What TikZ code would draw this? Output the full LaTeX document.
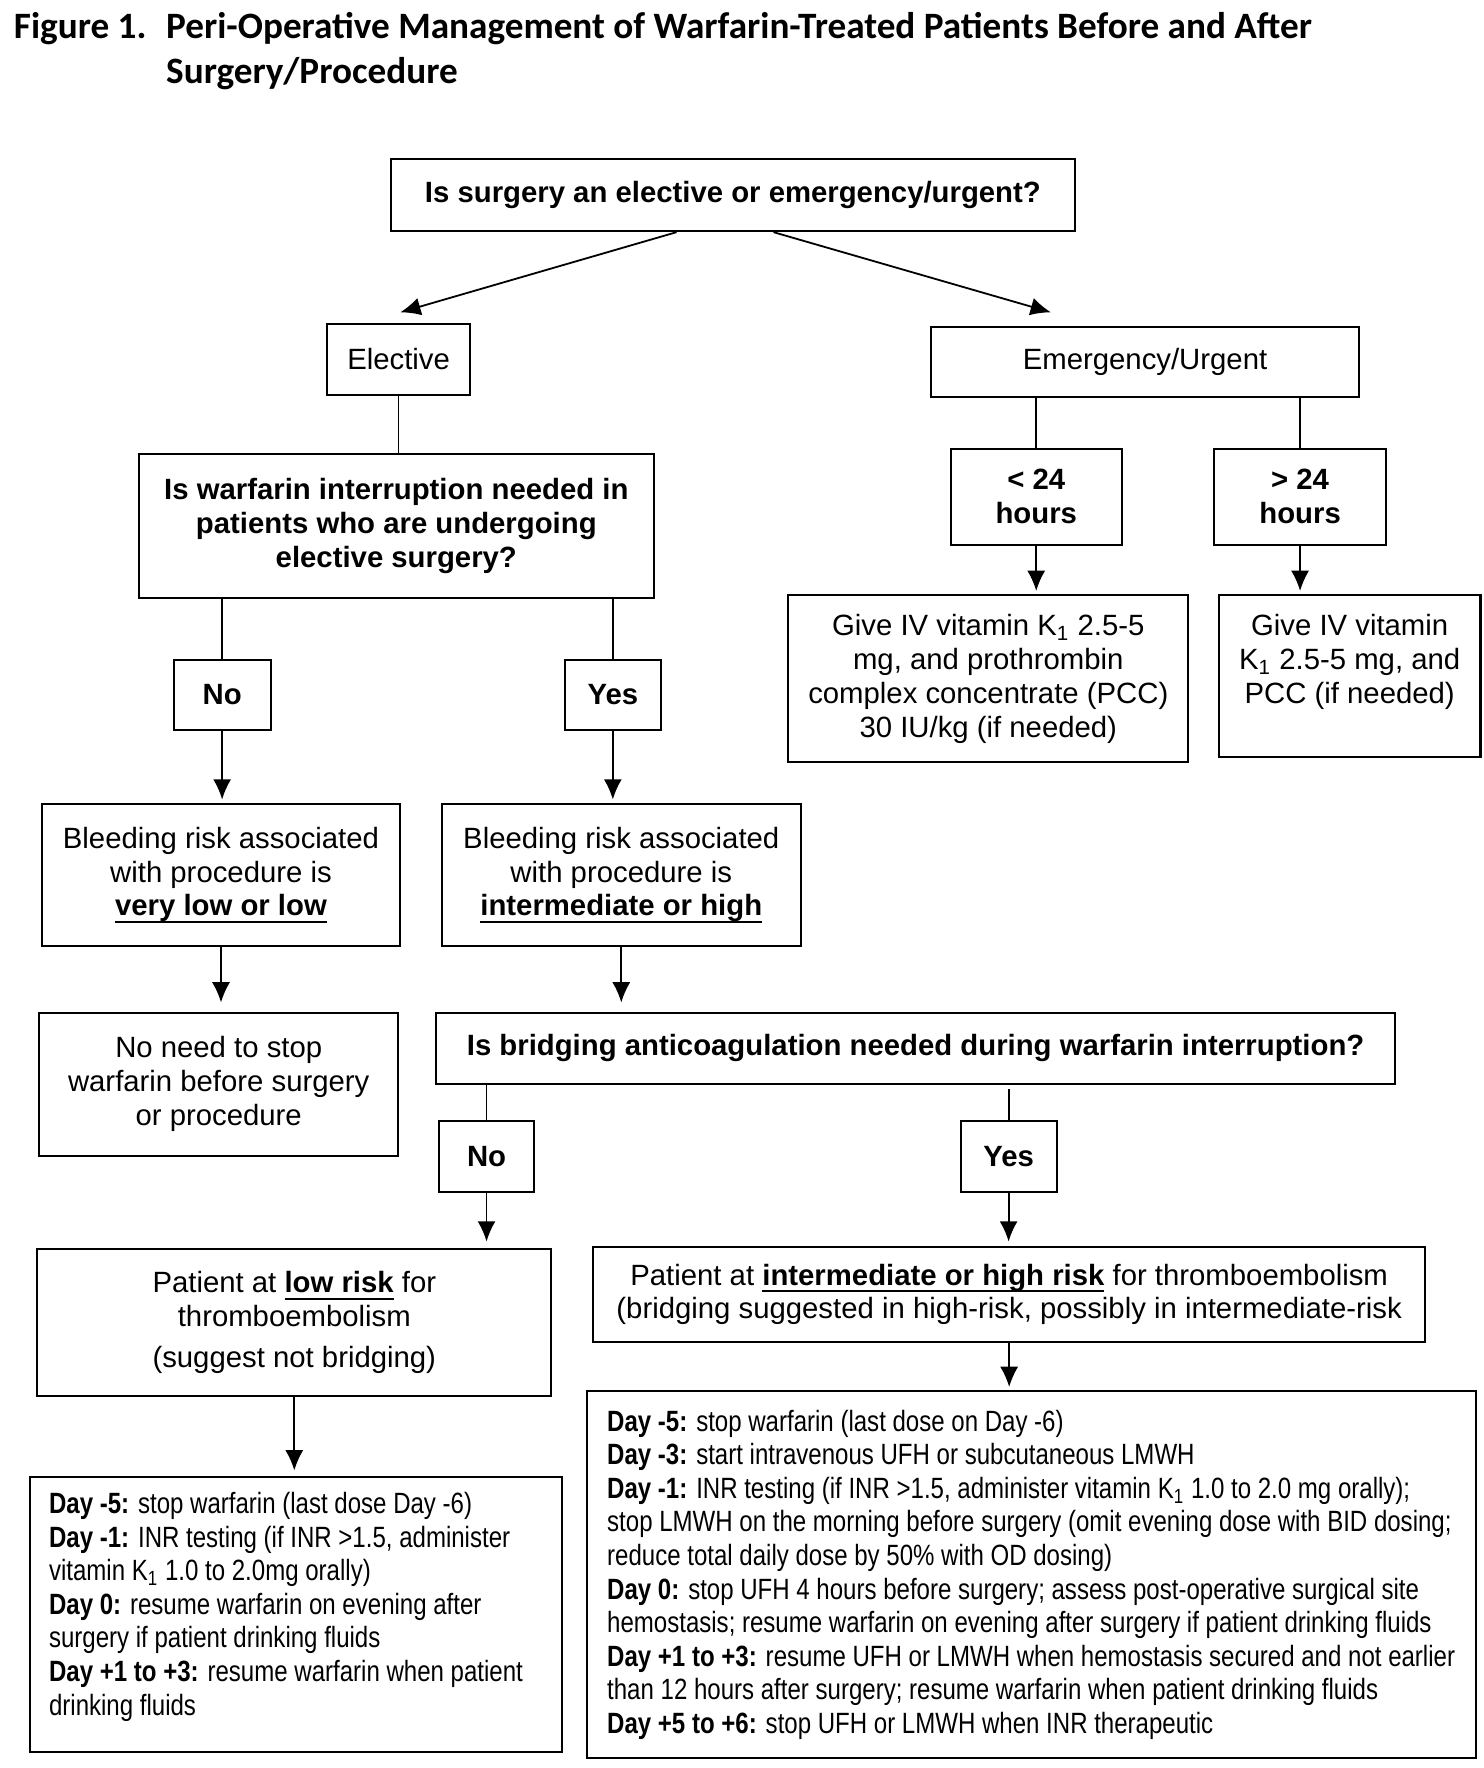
\documentclass[tikz,border=0pt]{standalone}
\usepackage{fontspec}
\setmainfont{Liberation Sans}
\newfontfamily\titlefont{Carlito}
\newfontfamily\narrowfont[FakeStretch=0.82]{Liberation Sans}
\usetikzlibrary{arrows.meta}
\newcommand{\bodyfont}{\fontsize{13}{15}\selectfont}
\newcommand{\myul}[1]{\setbox0\hbox{#1}\rlap{\raisebox{-3.2pt}{\rule{\wd0}{0.9pt}}}\box0\relax}
\begin{document}
\begin{tikzpicture}[x=0.5pt,y=-0.5pt,
  box/.style={draw, line width=0.9pt, inner sep=0pt, align=center, font=\bodyfont},
  bbox/.style={box, font=\bodyfont\bfseries},
  arr/.style={-{Latex[length=9pt,width=8pt]}, line width=0.8pt, shorten >=1.5pt},
  ln/.style={line width=0.8pt},
  plan/.style={anchor=west, align=left, inner sep=0pt, font=\narrowfont\fontsize{13}{14.9}\selectfont},
  ttl/.style={font=\titlefont\bfseries\fontsize{16.5}{20}\selectfont, inner sep=0pt, anchor=base west}]
\useasboundingbox (0,0) rectangle (1316,1568);
% title
\node[ttl] (t0) at (12,34) {Figure 1.};
\node[ttl] (t1) at (147,34) {Peri-Operative Management of Warfarin-Treated Patients Before and After};
\node[ttl] (t2) at (147,74) {Surgery/Procedure};
% boxes
\node[bbox, minimum width=303pt, minimum height=32pt] (q1) at (650,173) {Is surgery an elective or emergency/urgent?};
\node[box, minimum width=63.5pt, minimum height=31.5pt] (el) at (353.5,318.5) {Elective};
\node[box, minimum width=189.5pt, minimum height=31pt] (em) at (1015.5,321) {Emergency/Urgent};
\node[bbox, minimum width=228.5pt, minimum height=63.5pt] (q2) at (351.5,466.5) {Is warfarin interruption needed in\\patients who are undergoing\\elective surgery?};
\node[bbox, minimum width=43pt, minimum height=31pt] (no) at (197,616) {No};
\node[bbox, minimum width=42.5pt, minimum height=31pt] (yes) at (543.5,616) {Yes};
\node[box, minimum width=159pt, minimum height=63pt] (bl) at (196,776) {Bleeding risk associated\\with procedure is\\\myul{\textbf{very low or low}}};
\node[box, minimum width=159pt, minimum height=63pt] (bh) at (551,776) {Bleeding risk associated\\with procedure is\\\myul{\textbf{intermediate or high}}};
\node[box, minimum width=159pt, minimum height=63.5pt] (nn) at (194,961.5) {No need to stop\\warfarin before surgery\\or procedure};
\node[bbox, minimum width=425pt, minimum height=31.5pt] (q3) at (812,929.5) {Is bridging anticoagulation needed during warfarin interruption?};
\node[bbox, minimum width=42.5pt, minimum height=31.5pt] (no2) at (431.5,1025.5) {No};
\node[bbox, minimum width=42.5pt, minimum height=31.5pt] (yes2) at (894.5,1025.5) {Yes};
\node[box, minimum width=228pt, minimum height=65pt] (lr) at (261,1173) {Patient at \myul{\textbf{low risk}} for\\thromboembolism\\[3.5pt](suggest not bridging)};
\node[box, minimum width=369pt, minimum height=42pt] (hr) at (895,1148) {Patient at \myul{\textbf{intermediate or high risk}} for thromboembolism\\(bridging suggested in high-risk, possibly in intermediate-risk};
\node[box, minimum width=235.5pt, minimum height=122pt] (lp) at (262.5,1432) {};
\node[box, minimum width=394pt, minimum height=162.5pt] (hp) at (915,1396.5) {};
\node[bbox, minimum width=76pt, minimum height=42.5pt] (lt) at (919,440.5) {< 24\\hours};
\node[bbox, minimum width=76pt, minimum height=42.5pt] (gt) at (1153,440.5) {> 24\\hours};
\node[box, minimum width=177.5pt, minimum height=74pt] (iv1) at (876.5,602) {Give IV vitamin K\textsubscript{1} 2.5-5\\mg, and prothrombin\\complex concentrate (PCC)\\30 IU/kg (if needed)};
\node[box, minimum width=116pt, minimum height=71.5pt] (iv2) at (1197,599.5) {Give IV vitamin\\K\textsubscript{1} 2.5-5 mg, and\\PCC (if needed)\\\mbox{}};
% plan texts
\node[plan] (lpt) at ([xshift=8.5pt,yshift=3.5pt]lp.west) {\textbf{Day -5:} stop warfarin (last dose Day -6)\\
\textbf{Day -1:} INR testing (if INR >1.5, administer\\
vitamin K\textsubscript{1} 1.0 to 2.0mg orally)\\
\textbf{Day 0:} resume warfarin on evening after\\
surgery if patient drinking fluids\\
\textbf{Day +1 to +3:} resume warfarin when patient\\
drinking fluids};
\node[plan] (hpt) at ([xshift=9pt]hp.west) {\textbf{Day -5:} stop warfarin (last dose on Day -6)\\
\textbf{Day -3:} start intravenous UFH or subcutaneous LMWH\\
\textbf{Day -1:} INR testing (if INR >1.5, administer vitamin K\textsubscript{1} 1.0 to 2.0 mg orally);\\
stop LMWH on the morning before surgery (omit evening dose with BID dosing;\\
reduce total daily dose by 50\% with OD dosing)\\
\textbf{Day 0:} stop UFH 4 hours before surgery; assess post-operative surgical site\\
hemostasis; resume warfarin on evening after surgery if patient drinking fluids\\
\textbf{Day +1 to +3:} resume UFH or LMWH when hemostasis secured and not earlier\\
than 12 hours after surgery; resume warfarin when patient drinking fluids\\
\textbf{Day +5 to +6:} stop UFH or LMWH when INR therapeutic};
% connectors
\coordinate (elTip) at (355,277);
\coordinate (emTip) at (932,277);
\draw[arr, shorten >=0pt] ([xshift=-25pt]q1.south) -- (elTip);
\draw[arr, shorten >=0pt] ([xshift=18pt]q1.south) -- (emTip);
\draw[ln] (el.south) -- (el.south |- q2.north);
\draw[ln] (em.south -| lt.north) -- (lt.north);
\draw[ln] (em.south -| gt.north) -- (gt.north);
\draw[arr] (lt.south) -- (lt.south |- iv1.north);
\draw[arr] (gt.south) -- (gt.south |- iv2.north);
\draw[ln] (q2.south -| no.north) -- (no.north);
\draw[ln] (q2.south -| yes.north) -- (yes.north);
\draw[arr] (no.south) -- (no.south |- bl.north);
\draw[arr] (yes.south) -- (yes.south |- bh.north);
\draw[arr, shorten >=4pt] (bl.south) -- (bl.south |- nn.north);
\draw[arr, shorten >=4pt] (bh.south) -- (bh.south |- q3.north);
\draw[ln] (q3.south -| no2.north) -- (no2.north);
\draw[ln] ([yshift=-2pt]q3.south -| yes2.north) -- (yes2.north);
\draw[arr, shorten >=3pt] (no2.south) -- (no2.south |- lr.north);
\draw[arr, shorten >=2pt] (yes2.south) -- (yes2.south |- hr.north);
\draw[arr, shorten >=2.5pt] (lr.south) -- (lr.south |- lp.north);
\draw[arr] (hr.south) -- (hr.south |- hp.north);
\end{tikzpicture}
\end{document}
